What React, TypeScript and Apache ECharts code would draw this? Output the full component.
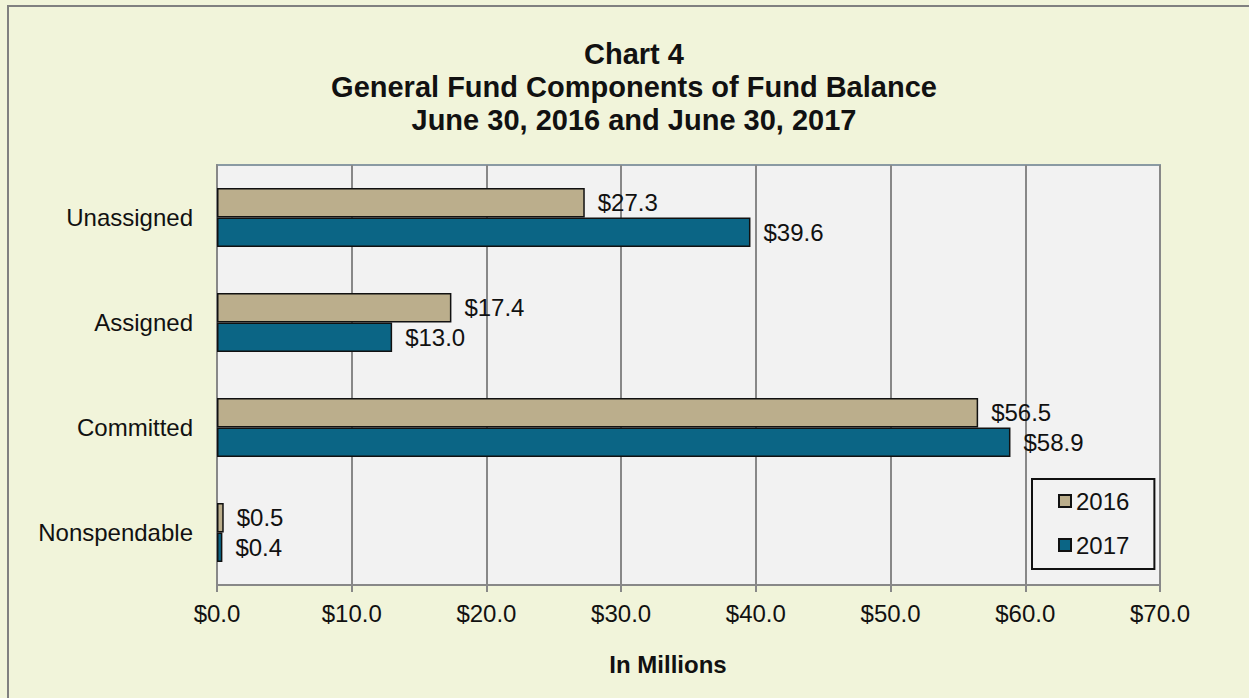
import React, { useEffect, useRef } from "react";
import * as echarts from "echarts";

const categories = ["Unassigned", "Assigned", "Committed", "Nonspendable"];
const values2016 = [27.3, 17.4, 56.5, 0.5];
const values2017 = [39.6, 13.0, 58.9, 0.4];
const xTicks = { min: 0, max: 70, interval: 10 };
const titleLines = ["Chart 4", "General Fund Components of Fund Balance", "June 30, 2016 and June 30, 2017"];

const FONT = "'Liberation Sans', Arial, sans-serif";

export default function App() {
  const ref = useRef<HTMLDivElement>(null);
  useEffect(() => {
    if (!ref.current) return;
    const chart = echarts.init(ref.current, null, { renderer: "svg" });
    const labelStyle = {
      show: true,
      position: "right",
      distance: 13,
      fontFamily: FONT,
      fontSize: 24,
      color: "#111",
      formatter: (p: any) => "$" + Number(p.value).toFixed(1),
    };
    chart.setOption({
      animation: false,
      backgroundColor: "#F1F4DA",
      textStyle: { fontFamily: FONT },
      title: {
        text: titleLines.join("\n"),
        left: 634,
        textAlign: "center",
        top: 37,
        padding: 0,
        textStyle: { fontFamily: FONT, fontSize: 29, fontWeight: "bold", color: "#111", lineHeight: 33 },
      },
      graphic: [
        {
          type: "rect",
          shape: { x: 8, y: 6, width: 1260, height: 720 },
          style: { fill: "none", stroke: "#808080", lineWidth: 2 },
          silent: true,
        },
        {
          type: "text",
          x: 668,
          y: 664,
          style: {
            text: "In Millions",
            font: "bold 24px " + FONT,
            fill: "#111",
            textAlign: "center",
            textVerticalAlign: "middle",
          },
        },
      ],
      grid: {
        left: 217,
        right: 89,
        top: 165,
        bottom: 113,
        show: true,
        backgroundColor: "#F2F2F2",
        borderColor: "#8A9AA3",
        borderWidth: 2,
      },
      legend: {
        orient: "vertical",
        left: 1032,
        top: 479,
        padding: [10, 25, 12, 26],
        itemGap: 20,
        itemWidth: 12,
        itemHeight: 12,
        icon: "rect",
        borderColor: "#111",
        borderWidth: 2,
        backgroundColor: "#F2F2F2",
        textStyle: { fontFamily: FONT, fontSize: 24, color: "#111" },
        data: ["2016", "2017"],
      },
      xAxis: {
        type: "value",
        min: xTicks.min,
        max: xTicks.max,
        interval: xTicks.interval,
        axisLine: { show: true, lineStyle: { color: "#888", width: 2 } },
        axisTick: { show: true, length: 7, lineStyle: { color: "#888", width: 2 } },
        splitLine: { show: true, lineStyle: { color: "#888", width: 2 } },
        axisLabel: {
          fontFamily: FONT,
          fontSize: 24,
          color: "#111",
          margin: 16,
          formatter: (v: number) => "$" + v.toFixed(1),
        },
      },
      yAxis: {
        type: "category",
        inverse: true,
        data: categories,
        axisLine: { show: true, lineStyle: { color: "#888", width: 2 } },
        axisTick: { show: false },
        axisLabel: { fontFamily: FONT, fontSize: 24, color: "#111", margin: 24 },
      },
      series: [
        {
          name: "2016",
          type: "bar",
          data: values2016,
          barGap: "0%",
          barCategoryGap: "44%",
          itemStyle: { color: "#BBAE8C", borderColor: "#111", borderWidth: 1.5 },
          label: labelStyle,
        },
        {
          name: "2017",
          type: "bar",
          data: values2017,
          itemStyle: { color: "#0B6585", borderColor: "#111", borderWidth: 1.5 },
          label: labelStyle,
        },
      ],
    });
    return () => chart.dispose();
  }, []);
  return (
    <div
      ref={ref}
      style={{ position: "fixed", left: 0, top: 0, width: 1249, height: 698 }}
    />
  );
}
